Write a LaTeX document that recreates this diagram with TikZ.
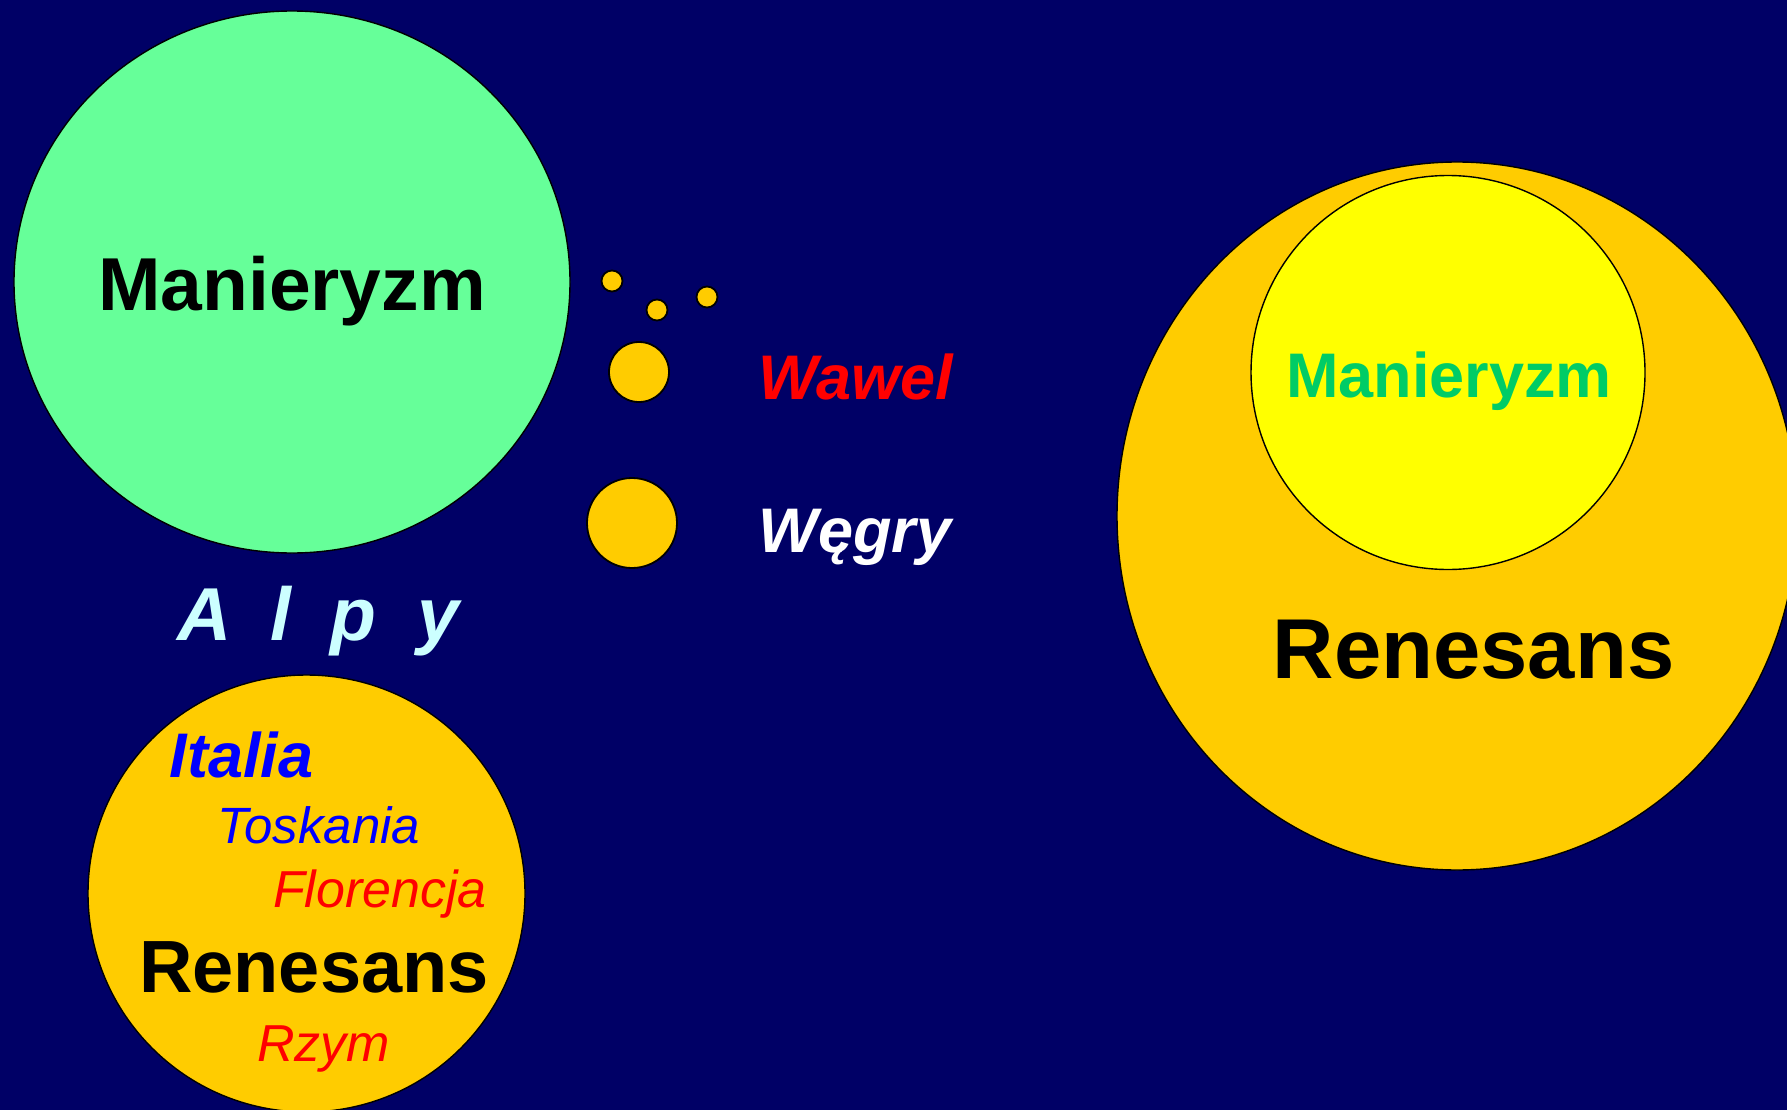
\documentclass[tikz,border=0pt]{standalone}
\usepackage{fontspec}
\setmainfont{Liberation Sans}
\usetikzlibrary{shapes.geometric}
\definecolor{bgnavy}{RGB}{0,0,102}
\definecolor{mintgreen}{RGB}{102,255,153}
\definecolor{goldorange}{RGB}{255,204,0}
\definecolor{brightyellow}{RGB}{255,255,0}
\definecolor{textgreen}{RGB}{0,204,102}
\definecolor{paleCyan}{RGB}{204,255,255}
\begin{document}
\begin{tikzpicture}[x=1pt,y=-1pt,
  blob/.style={draw=black,line width=1.4pt,inner sep=0pt,outer sep=0pt},
  ell/.style={blob,ellipse},
  dot/.style={blob,circle,fill=goldorange,line width=1.8pt},
  lbl/.style={inner sep=0pt,outer sep=0pt,anchor=base}]
\fill[bgnavy] (0,0) rectangle (1787,1110);
\useasboundingbox (0,0) rectangle (1787,1110);
\begin{scope}
\clip (0,0) rectangle (1787,1110);
% left green ellipse
\node[ell,fill=mintgreen,minimum width=556pt,minimum height=542pt] (greenEll) at (292,282) {};
% bottom-left orange circle
\node[blob,circle,fill=goldorange,minimum size=437pt] (italyCirc) at (306.5,893.5) {};
% right big orange ellipse
\node[ell,fill=goldorange,minimum width=680pt,minimum height=708pt] (bigEll) at (1457,516) {};
% inner yellow circle
\node[blob,circle,fill=brightyellow,minimum size=394pt] (innerCirc) at (1448,372.5) {};
\end{scope}
% small dots
\node[dot,minimum size=21pt] (dotA) at (612,281) {};
\node[dot,minimum size=21pt] (dotB) at (657,310) {};
\node[dot,minimum size=21pt] (dotC) at (707,297) {};
\node[dot,minimum size=60pt] (dotWawel) at (639,372) {};
\node[dot,minimum size=90pt] (dotWegry) at (632,523) {};
% texts
\node[lbl,font=\fontsize{75}{75}\selectfont\bfseries] (manL) at (292,310) {Manieryzm};
\node[lbl,anchor=base west,text=paleCyan,font=\fontsize{75}{75}\selectfont\bfseries\itshape] (alpy) at (177,640) {A\hspace{39pt}l\hspace{39pt}p\hspace{42pt}y};
\node[lbl,text=blue,font=\fontsize{63}{63}\selectfont\bfseries\itshape] (italia) at (241.5,777) {Italia};
\node[lbl,text=blue,font=\fontsize{51}{51}\selectfont\itshape] (toskania) at (319,843) {Toskania};
\node[lbl,text=red,font=\fontsize{52}{52}\selectfont\itshape] (florencja) at (380,907) {Florencja};
\node[lbl,font=\fontsize{74}{74}\selectfont\bfseries] (renL) at (314,992) {Renesans};
\node[lbl,text=red,font=\fontsize{52}{52}\selectfont\itshape] (rzym) at (323.5,1061) {Rzym};
\node[lbl,text=red,font=\fontsize{63}{63}\selectfont\bfseries\itshape] (wawel) at (856,399) {Wawel};
\node[lbl,text=white,font=\fontsize{63}{63}\selectfont\bfseries\itshape] (wegry) at (855,552) {Węgry};
\node[lbl,text=textgreen,font=\fontsize{63}{63}\selectfont\bfseries] (manR) at (1449,397) {Manieryzm};
\node[lbl,font=\fontsize{85}{85}\selectfont\bfseries] (renR) at (1473.5,678) {Renesans};
\end{tikzpicture}
\end{document}
